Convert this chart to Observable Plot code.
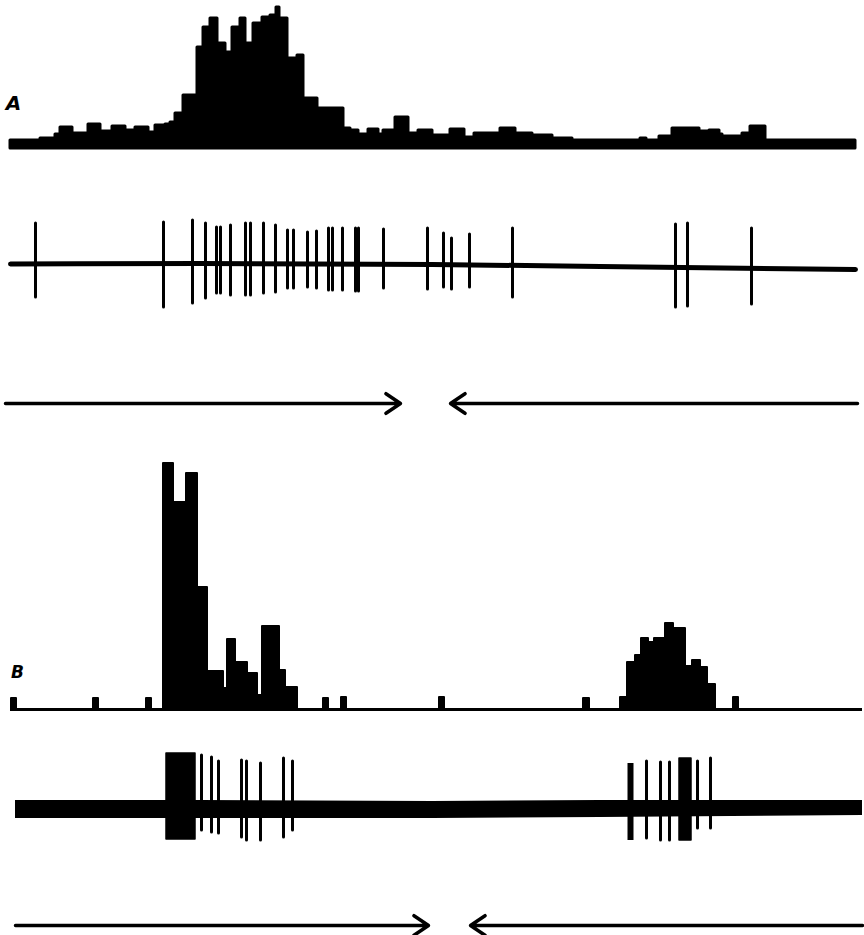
<!DOCTYPE html>
<html><head><meta charset="utf-8">
<script src="https://cdn.jsdelivr.net/npm/d3@7"></script>
<script src="https://cdn.jsdelivr.net/npm/@observablehq/plot@0.6"></script>
<style>
body{margin:0;background:#fff;width:864px;}
#chart > *{display:block;}
</style>
</head><body><div id="chart"></div>
<script>
// ---------- Record A: discharge-frequency histogram (bin left edge, count) ----------
const histA_x = [10,40,55,60,72,88,100,112,125,135,148,155,165,170,175,183,197,203,210,217,225,232,240,245,253,262,270,276,279,287,297,303,317,343,350,358,368,378,383,395,408,418,432,450,464,474,500,515,532,552,572,640,646,659,672,699,709,719,722,742,750,765,855];
const histA_n = [8,10,14,21,15,24,17,22,18,21,16,23,24,26,35,53,101,121,130,105,96,121,130,105,125,131,133,141,130,90,93,50,40,20,18,14,19,14,18,31,15,18,13,19,11,15,20,15,13,10,8,10,8,12,20,17,18,14,12,15,22,8,8];

// ---------- Record A: unit spike train ----------
const traceA_x = [10,200,432,600,855];
const traceA_v = [0.5,1,0,-2,-5];
const spikeA_t    = [35,163,192,205,216,220,230,245,250,263,275,287,293,307,316,328,332,342,355,358,383,427,443,451,469,512,675,687,751];
const spikeA_peak = [41,42,44,41,37,37,39,41,41,41,39,34,34,32,33,36,36,36,36,36,35,36,31,26,30,36,40,41,36];
const spikeA_trough=[-33,-43,-39,-34,-29,-29,-31,-31,-31,-29,-28,-24,-24,-23,-24,-26,-26,-26,-27,-27,-24,-25,-23,-25,-23,-33,-43,-42,-40];

// ---------- Record B: histogram bins (x1, x2, count) ----------
const histB_x1 = [11,93,146,163,173,186,197,207,223,227,235,247,257,262,279,285,323,341,439,583,620,627,635,641,648,654,665,673,685,692,700,707,733];
const histB_x2 = [16,98,151,173,186,197,207,223,227,235,247,257,262,279,285,297,328,346,444,589,627,635,641,648,654,665,673,685,692,700,707,715,738];
const histB_n  = [11,11,11,246,207,236,122,38,21,70,47,36,14,83,39,22,11,12,12,11,12,47,54,71,67,71,86,81,43,49,42,25,12];
const baseB = [10,862];

// ---------- Record B: unit spike train ----------
const traceB_x   = [15,200,432,600,862];
const traceB_top = [9,9,8,9,9];
const traceB_bot = [-9,-9,-9,-8,-6];
const burstB_x1 = [166,679], burstB_x2 = [195,691], burstB_top = [56,51], burstB_bot = [-30,-31];
const spikeB_t     = [201,211,218,241,246,260,283,292,630,646,660,669,697,710];
const spikeB_peak  = [54,52,48,49,48,46,51,48,46,48,47,47,48,51];
const spikeB_trough= [-21,-23,-24,-28,-31,-31,-28,-21,-31,-29,-31,-31,-19,-19];
const spikeB_w     = [3,3,3,3,3,3,3,3,6,3,3,3,3,3];

// ---------- Direction-of-movement arrows (start, end) ----------
const arrowsA_from = [5,857], arrowsA_to = [400,450];
const arrowsB_from = [15,862], arrowsB_to = [428,470];

// ---------- Panel labels ----------
const labels = [{panel:"A", x:13, y:45}, {panel:"B", x:17, y:37}];

const X = {domain:[0,864], range:[0,864], axis:null};
const base = {width:864, margin:0, style:{background:"#fff", overflow:"visible"}};
const root = document.getElementById("chart");
const add = (p) => root.appendChild(p);

// Panel 1: histogram A
const dA = histA_x.map((x,i)=>({x, n:histA_n[i]}));
add(Plot.plot({...base, height:155, x:X, y:{domain:[-7,148], axis:null},
  marks:[
    Plot.areaY(dA,{x:"x", y:"n", curve:"step-after", fill:"black", stroke:"black", strokeWidth:3, strokeLinejoin:"round"}),
    Plot.text([labels[0]],{x:"x", y:"y", text:"panel", fontSize:20, fontStyle:"italic", fontWeight:"bold", fontFamily:"DejaVu Sans", fill:"black"})
  ]}));

// Panel 2: spike train A
const tA = traceA_x.map((x,i)=>({x, v:traceA_v[i]}));
const sA = spikeA_t.map((t,i)=>({t, p:spikeA_peak[i], q:spikeA_trough[i]}));
add(Plot.plot({...base, height:175, x:X, y:{domain:[-66,109], axis:null},
  marks:[
    Plot.line(tA,{x:"x", y:"v", stroke:"black", strokeWidth:5, curve:"monotone-x", strokeLinecap:"round"}),
    Plot.ruleX(sA,{x:"t", y1:"q", y2:"p", stroke:"black", strokeWidth:3, strokeLinecap:"round"})
  ]}));

// Panel 3: arrows A
const aA = arrowsA_from.map((f,i)=>({x1:f, x2:arrowsA_to[i]}));
add(Plot.plot({...base, height:120, x:X, y:{domain:[-47,73], axis:null},
  marks:[
    Plot.arrow(aA,{x1:"x1", x2:"x2", y1:0, y2:0, stroke:"black", strokeWidth:3.5, headLength:7.5, headAngle:68, insetStart:0, insetEnd:0, strokeLinecap:"round"})
  ]}));

// Panel 4: histogram B
const dB = histB_n.map((n,i)=>({x1:histB_x1[i], x2:histB_x2[i], n}));
add(Plot.plot({...base, height:270, x:X, y:{domain:[-11,259], axis:null},
  marks:[
    Plot.ruleY([0],{x1:baseB[0], x2:baseB[1], stroke:"black", strokeWidth:3}),
    Plot.rectY(dB,{x1:"x1", x2:"x2", y1:0, y2:"n", fill:"black", stroke:"black", strokeWidth:2, strokeLinejoin:"round"}),
    Plot.text([labels[1]],{x:"x", y:"y", text:"panel", fontSize:17, fontStyle:"italic", fontWeight:"bold", fontFamily:"DejaVu Sans", fill:"black"})
  ]}));

// Panel 5: spike train B
const tB = traceB_x.map((x,i)=>({x, top:traceB_top[i], bot:traceB_bot[i]}));
const bB = burstB_x1.map((x1,i)=>({x1, x2:burstB_x2[i], top:burstB_top[i], bot:burstB_bot[i]}));
const sB = spikeB_t.map((t,i)=>({t, p:spikeB_peak[i], q:spikeB_trough[i], w:spikeB_w[i]}));
add(Plot.plot({...base, height:140, x:X, y:{domain:[-51,89], axis:null},
  marks:[
    Plot.areaY(tB,{x:"x", y1:"bot", y2:"top", fill:"black"}),
    Plot.rect(bB,{x1:"x1", x2:"x2", y1:"bot", y2:"top", fill:"black", stroke:"black", strokeWidth:1.5, strokeLinejoin:"round"}),
    Plot.ruleX(sB.filter(d=>d.w<4),{x:"t", y1:"q", y2:"p", stroke:"black", strokeWidth:3, strokeLinecap:"round"}),
    Plot.ruleX(sB.filter(d=>d.w>=4),{x:"t", y1:"q", y2:"p", stroke:"black", strokeWidth:6})
  ]}));

// Panel 6: arrows B
const aB = arrowsB_from.map((f,i)=>({x1:f, x2:arrowsB_to[i]}));
add(Plot.plot({...base, height:75, x:X, y:{domain:[-10,65], axis:null},
  marks:[
    Plot.arrow(aB,{x1:"x1", x2:"x2", y1:0, y2:0, stroke:"black", strokeWidth:3.5, headLength:7.5, headAngle:68, insetStart:0, insetEnd:0, strokeLinecap:"round"})
  ]}));
</script></body></html>
